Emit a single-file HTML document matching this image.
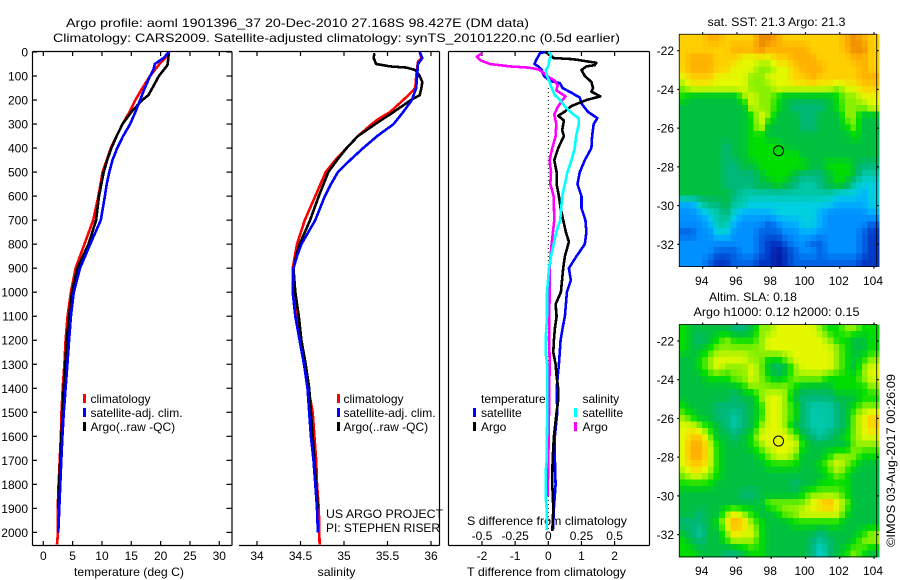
<!DOCTYPE html>
<html>
<head>
<meta charset="utf-8">
<title>Argo profile</title>
<style>
html,body{margin:0;padding:0;background:#fff;}
#chart{display:block;position:absolute;left:0;top:0;}
text{font-family:"Liberation Sans",sans-serif;font-size:12px;fill:#000;}
</style>
</head>
<body>
<svg id="chart" xmlns="http://www.w3.org/2000/svg" width="900" height="580" viewBox="0 0 900 580">
<rect x="0" y="0" width="900" height="580" fill="#fff"/>
<text x="66" y="27" textLength="463" lengthAdjust="spacingAndGlyphs">Argo profile: aoml 1901396_37 20-Dec-2010 27.168S 98.427E (DM data)</text>
<text x="53" y="42" textLength="567" lengthAdjust="spacingAndGlyphs">Climatology: CARS2009. Satellite-adjusted climatology: synTS_20101220.nc (0.5d earlier)</text>
<text x="74" y="576" textLength="110" lengthAdjust="spacingAndGlyphs">temperature (deg C)</text>
<text x="317.500" y="576" textLength="38" lengthAdjust="spacingAndGlyphs">salinity</text>
<text x="467" y="576" textLength="159" lengthAdjust="spacingAndGlyphs">T difference from climatology</text>
<text x="467" y="525" textLength="160" lengthAdjust="spacingAndGlyphs">S difference from climatology</text>
<text x="326" y="518" textLength="117" lengthAdjust="spacingAndGlyphs">US ARGO PROJECT</text>
<text x="326" y="532" textLength="114" lengthAdjust="spacingAndGlyphs">PI: STEPHEN RISER</text>
<text x="707.500" y="26" textLength="138" lengthAdjust="spacingAndGlyphs">sat. SST: 21.3 Argo: 21.3</text>
<text x="709" y="301" textLength="88" lengthAdjust="spacingAndGlyphs">Altim. SLA: 0.18</text>
<text x="693.500" y="316" textLength="166" lengthAdjust="spacingAndGlyphs">Argo h1000: 0.12 h2000: 0.15</text>
<text transform="translate(895,547) rotate(-90)" x="0" y="0" textLength="173" lengthAdjust="spacingAndGlyphs">©IMOS 03-Aug-2017 00:26:09</text>
<g id="layer"></g>
</svg>
<script>
// ---------- tick labels ----------
const depthTicks = [0,100,200,300,400,500,600,700,800,900,1000,1100,1200,1300,1400,1500,1600,1700,1800,1900,2000];
const tempTicks = [0,5,10,15,20,25,30];
const salTicks = [34,34.5,35,35.5,36];
const tDiffTicks = [-2,-1,0,1,2];
const sDiffTicks = [-0.5,-0.25,0,0.25,0.5];
const lonTicks = [94,96,98,100,102,104];
const latTicks = [-22,-24,-26,-28,-30,-32];

// ---------- temperature profiles ----------
const tempClimDepth = [0,20,50,100,150,200,250,300,350,400,450,500,600,700,800,900,1000,1100,1200,1300,1400,1500,1600,1700,1800,1900,2000,2050];
const tempClimValues = [21.5,21,19.8,18.2,16.9,15.7,14.7,13.5,12.5,11.5,10.8,10.1,9.4,8.5,7,5.5,4.7,4.15,3.8,3.6,3.3,3.1,3,2.8,2.6,2.45,2.5,2.33];
const tempArgoDepth = [5,50,60,75,100,150,180,200,250,300,350,400,450,500,600,700,800,900,1000,1100,1200,1300,1400,1500,1600,1700,1800,1900];
const tempArgoValues = [21.4,21.2,21,20.5,19.7,18.6,17.9,16.9,15,13.5,12.5,11.6,10.9,10.3,9.5,9,7.7,5.8,4.9,4.4,4,3.75,3.47,3.3,3.07,2.9,2.67,2.55];
const tempSatDepth = [0,25,50,75,100,150,200,250,300,350,400,450,500,550,600,700,750,800,900,1000,1100,1200,1300,1400,1500,1600,1700,1800,1900,2000];
const tempSatValues = [21.4,20.5,19,18.75,18.2,17.3,16.5,15.7,14.8,13.6,12.6,11.8,11.25,10.8,10.5,9.8,8.9,8,6.25,5.2,4.7,4.4,4.1,3.8,3.5,3.25,3.07,2.9,2.73,2.55];

// ---------- salinity profiles ----------
const salClimDepth = [0,25,40,100,150,180,200,250,280,300,350,400,450,500,600,700,800,900,1000,1100,1200,1300,1400,1500,1600,1700,1800,1900,2050];
const salClimValues = [35.87,35.89,35.85,35.83,35.82,35.74,35.68,35.53,35.39,35.32,35.16,35.03,34.9,34.79,34.67,34.55,34.46,34.41,34.41,34.46,34.5,34.54,34.59,34.64,34.66,34.68,34.69,34.71,34.72];
const salArgoDepth = [5,25,50,60,65,75,100,125,150,180,200,250,300,350,400,450,500,600,700,800,850,900,1000,1100,1200,1300,1400,1500,1600,1700,1800,1900];
const salArgoValues = [35.35,35.34,35.37,35.53,35.72,35.82,35.87,35.9,35.89,35.87,35.77,35.57,35.36,35.16,35.03,34.92,34.82,34.71,34.61,34.49,34.45,34.42,34.44,34.48,34.51,34.56,34.6,34.62,34.64,34.66,34.68,34.7];
const salSatDepth = [0,25,50,100,150,200,250,300,350,400,450,500,550,600,700,800,850,900,1000,1100,1200,1300,1400,1500,1600,1700,1800,1900,2000];
const salSatValues = [35.87,35.9,35.85,35.84,35.83,35.78,35.68,35.57,35.38,35.22,35.07,34.93,34.85,34.78,34.67,34.51,34.46,34.42,34.41,34.44,34.49,34.54,34.58,34.6,34.62,34.65,34.67,34.69,34.7];

// ---------- difference profiles ----------
const dTSatDepth = [0,5,30,50,60,75,100,120,130,150,170,190,215,250,275,300,350,400,450,500,550,600,650,700,750,800,850,900,950,1000,1050,1100,1150,1200,1300,1400,1500,1600,1700,1800,1900,1990];
const dTSatValues = [-0.1,-0.25,-0.35,-0.42,-0.3,-0.2,-0.13,0.05,0.35,0.43,0.7,0.95,1,1.2,1.48,1.37,1.32,1.3,1.1,0.95,0.88,1,1,1.12,1.15,1.1,0.85,0.62,0.68,0.56,0.53,0.5,0.43,0.37,0.32,0.25,0.27,0.2,0.2,0.22,0.17,0.14];
const dTArgoDepth = [0,10,25,30,45,55,60,75,100,125,150,165,185,200,225,250,265,285,325,350,400,450,500,550,600,650,700,750,790,850,900,1000,1050,1100,1150,1200,1250,1300,1350,1400,1450,1500,1600,1700,1800,1900,1995];
const dTArgoValues = [-0.1,0.05,0.15,0.75,1.45,1.4,1.15,1,1.1,1.3,1.35,1.3,1.57,1.15,0.7,0.48,0.3,0.47,0.42,0.47,0.3,0.18,0.25,0.25,0.32,0.37,0.45,0.53,0.62,0.5,0.45,0.38,0.22,0.25,0.2,0.17,0.15,0.22,0.25,0.3,0.3,0.25,0.17,0.13,0.12,0.15,0.12];
const dSArgoDepth = [5,20,35,50,60,65,72,85,100,120,140,160,185,205,230,260,300,350,400,450,500,550,600,700,800,900,1000,1200,1300,1400,1500,1700,1850];
const dSArgoValues = [-0.5,-0.54,-0.51,-0.44,-0.29,-0.15,-0.075,-0.04,-0.01,0.05,0.07,0.06,0.13,0.1,0.07,0.045,0.06,0.055,0.03,0.01,0.02,0.015,0.04,0.045,0.025,0.01,0.01,0.005,0.012,0.005,0.005,0,-0.005];
const dSSatDepth = [0,10,30,60,75,100,125,150,180,200,230,260,275,300,350,400,450,500,550,600,700,750,800,850,900,1000,1100,1150,1200,1250,1300,1500,1700,1750,1850,1900,1990];
const dSSatValues = [0,0.02,0.01,0,-0.02,-0.01,0.01,0.025,0.05,0.09,0.13,0.19,0.23,0.23,0.21,0.2,0.175,0.145,0.125,0.105,0.09,0.06,0.04,0.02,0.005,-0.01,-0.01,-0.015,-0.02,-0.02,-0.008,-0.008,-0.012,-0.02,-0.02,-0.012,-0.012];

// ---------- map grids (colour-scale levels, 0.5 deg cells, north to south) ----------
const sstGrid = [
[12,12,12,13,13,12,12,12,12,14,14,13,12,12,12,12,12,12,12,13,14,13,12],
[12,12,12,12,12,12,13,13,13,14,13,13,13,13,13,12,12,12,12,13,14,14,12],
[12,13,13,13,12,12,12,11,11,11,11,12,12,13,13,13,12,12,12,12,13,13,12],
[12,13,13,13,12,12,11,11,11,10,10,11,11,12,13,13,13,12,12,12,12,13,12],
[11,12,12,12,11,11,11,11,10,10,11,11,11,12,12,13,12,12,12,12,12,13,13],
[10,11,11,11,11,11,11,11,10,10,10,11,11,11,11,11,11,11,10,11,11,12,12],
[9,8,8,8,8,8,8,10,11,10,10,9,8,8,8,8,8,8,9,10,10,11,11],
[8,8,8,8,8,8,8,8,11,10,10,9,8,7,7,7,7,8,9,10,10,10,11],
[8,8,8,8,8,8,8,8,9,11,10,8,8,8,7,7,8,8,8,10,10,8,8],
[8,8,8,8,8,8,8,8,9,11,8,8,8,8,7,7,8,8,8,9,10,8,8],
[8,8,8,8,8,8,8,8,9,9,8,8,8,8,8,8,8,8,8,8,9,8,8],
[8,8,8,8,8,7,8,8,9,9,9,9,8,8,8,8,8,8,8,8,8,8,8],
[8,8,8,8,8,7,8,8,9,9,9,9,9,9,8,8,8,8,8,8,8,8,8],
[8,8,8,8,8,7,7,8,8,9,9,9,9,9,9,8,8,9,9,9,8,7,7],
[8,8,8,8,8,7,7,7,7,8,9,9,9,8,7,7,7,8,9,9,8,6,6],
[8,8,8,8,8,7,7,7,7,8,8,9,8,7,6,6,7,8,9,8,6,5,5],
[8,8,8,8,8,8,7,6,6,6,6,6,6,6,6,6,6,6,5,5,5,4,5],
[4,4,6,7,7,8,6,6,5,5,5,5,5,5,5,5,5,5,4,4,4,4,5],
[3,3,4,5,6,7,5,4,4,4,4,5,5,5,5,5,4,3,3,3,3,3,4],
[3,3,3,4,6,6,4,3,3,3,2,3,4,4,5,5,4,3,3,3,3,3,2],
[2,2,3,3,5,5,3,3,3,2,2,2,3,3,4,4,3,3,3,3,3,2,1],
[3,3,3,3,3,3,3,3,3,2,1,1,2,3,3,2,2,3,3,3,3,2,1],
[3,3,3,3,2,2,2,3,3,2,1,0,1,2,3,3,2,3,3,3,3,2,1],
[3,3,3,2,1,1,2,2,2,1,1,0,1,2,2,2,2,2,2,2,2,1,1]
];
const slaGrid = [
[9,8,8,8,8,8,7,7,8,10,10,11,11,11,11,11,10,9,9,10,10,9,9],
[9,8,7,8,9,10,9,9,9,10,11,11,11,11,11,11,11,10,9,9,8,8,9],
[9,8,8,9,10,10,10,10,10,10,11,11,11,11,11,11,11,11,10,9,8,8,9],
[8,8,9,10,11,11,11,11,10,10,9,9,10,11,11,11,11,11,10,9,8,9,10],
[8,8,9,10,11,10,10,10,11,10,8,7,8,10,11,11,11,11,10,9,8,10,11],
[8,8,8,9,9,9,10,10,11,10,9,8,9,10,10,10,10,9,9,9,9,10,11],
[8,8,8,8,8,8,8,9,10,10,10,10,10,9,8,8,8,8,9,9,9,9,10],
[8,8,8,8,8,8,7,8,8,10,11,11,10,8,7,7,7,7,8,8,8,9,9],
[9,8,8,8,7,7,7,7,8,9,11,11,10,9,7,6,6,6,7,8,9,10,10],
[10,9,8,8,7,7,6,7,8,9,11,11,10,9,7,6,6,6,7,8,10,11,12],
[11,11,10,9,8,7,6,7,8,10,11,11,10,8,7,6,6,6,7,8,10,11,12],
[11,12,12,10,8,8,7,8,9,11,11,11,11,10,8,7,6,7,8,9,10,11,11],
[11,13,13,11,9,8,8,8,9,10,11,11,11,11,9,8,8,8,8,8,10,10,10],
[11,13,13,11,9,8,8,8,8,9,10,11,11,10,8,8,8,9,10,10,10,9,9],
[11,12,12,11,9,8,8,8,8,8,9,9,9,9,8,8,9,10,11,10,9,8,8],
[10,11,11,10,9,8,8,8,8,8,8,8,8,8,8,8,8,9,10,9,8,8,8],
[9,9,9,9,8,8,8,8,8,8,8,8,8,7,8,8,9,9,9,9,8,8,8],
[8,8,8,8,8,8,8,7,7,8,8,8,8,8,9,10,10,10,10,9,8,8,8],
[8,8,8,8,8,8,8,8,8,8,10,10,10,10,10,11,12,13,11,10,8,8,8],
[8,8,7,8,8,10,11,10,9,8,8,9,10,10,11,11,11,11,11,9,8,8,8],
[7,7,7,8,9,11,13,12,10,9,8,8,8,9,9,9,9,9,9,8,8,8,8],
[8,7,6,8,8,10,12,11,11,9,8,8,8,8,8,8,7,8,8,8,8,9,10],
[9,8,7,8,8,9,10,10,10,9,8,8,8,8,8,7,6,7,8,8,9,10,10],
[9,9,8,8,8,7,7,8,9,9,8,8,8,8,8,7,5,7,8,9,10,9,8]
];
const floatLon = 98.427;
const floatLat = -27.168;

// ---------- styling and scales ----------
const paletteRgb = [[8,24,160],[0,56,196],[0,100,228],[0,144,255],[0,176,255],[0,208,224],[0,200,168],[0,184,120],[0,192,64],[0,222,0],[136,240,0],[228,248,0],[255,208,0],[255,176,0],[238,140,0]];
const NS = 'http://www.w3.org/2000/svg';
const layer = document.getElementById('layer');
function mk(tag, attrs, parent) {
  const el = document.createElementNS(NS, tag);
  for (const k in attrs) el.setAttribute(k, attrs[k]);
  (parent || layer).appendChild(el);
  return el;
}
function label(x, y, str, anchor) {
  const el = mk('text', {x: x, y: y, 'text-anchor': anchor || 'middle'});
  el.textContent = str;
  return el;
}
function linearScale(v0, p0, v1, p1) {
  return function (v) { return p0 + (v - v0) * (p1 - p0) / (v1 - v0); };
}
const yDepth = linearScale(0, 52, 2000, 532.4);
const xTemp = linearScale(0, 43.3, 30, 219.3);
const xSal = linearScale(34, 257, 36, 431);
const xDT = linearScale(0, 548.3, 2, 614.6);
const xDS = linearScale(0, 548.3, 0.5, 614.6);
const TOP = 51.5, BOTTOM = 545.5;

function axisLine(x1, y1, x2, y2) {
  return mk('line', {x1: x1, y1: y1, x2: x2, y2: y2, stroke: '#000', 'stroke-width': 1.2});
}
function drawProfile(values, depths, xScale, colour) {
  const pts = values.map(function (v, i) { return xScale(v).toFixed(1) + ',' + yDepth(depths[i]).toFixed(1); }).join(' ');
  return mk('polyline', {points: pts, fill: 'none', stroke: colour, 'stroke-width': 2.6, 'stroke-linejoin': 'round', 'shape-rendering': 'crispEdges'});
}
function legendMark(x, y, colour) {
  return mk('rect', {x: x, y: y, width: 3, height: 9, fill: colour});
}

// ---------- panel frames ----------
const frames = [[32.5, 232],[239, 439.5],[448.5, 649.5]];
frames.forEach(function (f, idx) {
  const top = axisLine(f[0], TOP, f[1], TOP);
  
  
  const bot = axisLine(f[0], BOTTOM, f[1], BOTTOM);
  
  
  const r = axisLine(f[1], TOP, f[1], BOTTOM);
  
  
  if (idx !== 1) {
    const l = axisLine(f[0], TOP, f[0], BOTTOM);
    
    
  }
});

// ---------- depth axis ----------
depthTicks.forEach(function (d) {
  const y = yDepth(d);
  const a = axisLine(32.5, y, 37, y);
  
  
  const b = axisLine(226.5, y, 232, y);
  
  
  const t = label(28, y + 4.5, String(d), 'end');
  
  
});

// ---------- x axes ----------
function xAxis(ticks, scale, fmt) {
  ticks.forEach(function (v) {
    const x = scale(v);
    const a = axisLine(x, TOP, x, TOP + 4.5);
    
    
    const b = axisLine(x, BOTTOM - 4.5, x, BOTTOM);
    
    
    const t = label(x, 560, fmt(v));
    
    
  });
}
xAxis(tempTicks, xTemp, String);
xAxis(salTicks, xSal, String);
xAxis(tDiffTicks, xDT, String);
sDiffTicks.forEach(function (v) {
  const t = label(xDS(v), 540, String(v));
  
  
});

// ---------- zero line ----------
const zeroLine = mk('line', {x1: xDT(0), y1: yDepth(150), x2: xDT(0), y2: yDepth(2000), stroke: '#000', 'stroke-width': 1, 'stroke-dasharray': '1 3'});



// ---------- series ----------
let s;
s = drawProfile(tempClimValues, tempClimDepth, xTemp, '#f00');


s = drawProfile(tempArgoValues, tempArgoDepth, xTemp, '#000');


s = drawProfile(tempSatValues, tempSatDepth, xTemp, '#00f');


s = drawProfile(salClimValues, salClimDepth, xSal, '#f00');


s = drawProfile(salArgoValues, salArgoDepth, xSal, '#000');


s = drawProfile(salSatValues, salSatDepth, xSal, '#00f');


s = drawProfile(dTSatValues, dTSatDepth, xDT, '#00f');


s = drawProfile(dTArgoValues, dTArgoDepth, xDT, '#000');


s = drawProfile(dSArgoValues, dSArgoDepth, xDS, '#f0f');


s = drawProfile(dSSatValues, dSSatDepth, xDS, '#0ff');



// ---------- legends ----------
const legendRows = ['climatology', 'satellite-adj. clim.', 'Argo(..raw -QC)'];
const legendColours = ['#f00', '#00f', '#000'];
[[83, 90.5], [337, 343.5]].forEach(function (pos) {
  legendRows.forEach(function (txt, i) {
    const m = legendMark(pos[0], 394 + i * 14, legendColours[i]);
    
    
    const t = label(pos[1], 403 + i * 14, txt, 'start');
    
    
  });
});
const diffLegendHeads = [['temperature', 481], ['salinity', 582.5]];
diffLegendHeads.forEach(function (h) {
  const t = label(h[1], 403, h[0], 'start');
  
  
});
const diffLegend = [[473, 481, 'satellite', '#00f', 417], [473, 481, 'Argo', '#000', 431], [574, 582.5, 'satellite', '#0ff', 417], [574, 582.5, 'Argo', '#f0f', 431]];
diffLegend.forEach(function (e) {
  const m = legendMark(e[0], e[4] - 9, e[3]);
  
  
  const t = label(e[1], e[4], e[2], 'start');
  
  
});

// ---------- maps ----------
function levelColour(level) {
  const top = paletteRgb.length - 1;
  const l = Math.max(0, Math.min(top, level));
  const i = Math.min(top - 1, Math.floor(l));
  const f = l - i;
  const c = paletteRgb[i].map(function (v, k) { return Math.round(v + (paletteRgb[i + 1][k] - v) * f); });
  return 'rgb(' + c.join(',') + ')';
}
function sampleGrid(grid, rowPos, colPos) {
  const rows = grid.length, cols = grid[0].length;
  const r = Math.max(0, Math.min(rows - 1, rowPos));
  const c = Math.max(0, Math.min(cols - 1, colPos));
  const r0 = Math.floor(r), c0 = Math.floor(c);
  const r1 = Math.min(rows - 1, r0 + 1), c1 = Math.min(cols - 1, c0 + 1);
  const fr = r - r0, fc = c - c0;
  return grid[r0][c0] * (1 - fr) * (1 - fc) + grid[r0][c1] * (1 - fr) * fc + grid[r1][c0] * fr * (1 - fc) + grid[r1][c1] * fr * fc;
}
function drawMap(grid, lat22y, xLabelY) {
  const xLon = linearScale(94, 702.7, 104, 874);
  const yLat = linearScale(-22, lat22y, -32, lat22y + 193.6);
  const lon0 = 92.63, lat0 = -21.15, step = 0.5, sub = 3;
  const g = mk('g', {'shape-rendering': 'crispEdges'});
  
  
  const nRows = Math.round(grid.length * 1.5), nCols = Math.round(grid[0].length * 1.5);
  const blockDeg = step * 2 / sub;
  for (let r = 0; r < nRows; r++) {
    for (let c = 0; c < nCols; c++) {
      const x0 = xLon(lon0 + c * blockDeg), x1 = xLon(lon0 + (c + 1) * blockDeg);
      const y0 = yLat(lat0 - r * blockDeg), y1 = yLat(lat0 - (r + 1) * blockDeg);
      const level = sampleGrid(grid, (r + 0.5) * blockDeg / step - 0.5, (c + 0.5) * blockDeg / step - 0.5);
      const cell = mk('rect', {x: x0, y: y0, width: x1 - x0 + 0.5, height: y1 - y0 + 0.5, fill: levelColour(level)}, g);
      
      
    }
  }
  const left = xLon(lon0), right = xLon(lon0 + grid[0].length * step) + 0.5;
  const top = yLat(lat0), bottom = yLat(lat0 - grid.length * step);
  const fr = mk('rect', {x: left, y: top, width: right - left, height: bottom - top, fill: 'none', stroke: '#000', 'stroke-width': 0.8});
  
  
  lonTicks.forEach(function (v) {
    const x = xLon(v);
    const a = axisLine(x, bottom, x, bottom + 2);
    
    
    const b = axisLine(x, top - 2, x, top);
    
    
    const t = label(x - 1, xLabelY, String(v));
    
    
  });
  latTicks.forEach(function (v) {
    const y = yLat(v);
    const a = axisLine(left - 2, y, left, y);
    
    
    const b = axisLine(right, y, right + 2, y);
    
    
    const t = label(674, y + 4.5, '-' + Math.abs(v), 'end');
    
    
  });
  const c = mk('circle', {cx: xLon(floatLon), cy: yLat(floatLat), r: 5, fill: 'none', stroke: '#000', 'stroke-width': 1});
  
  
}
drawMap(sstGrid, 50.7, 285);
drawMap(slaGrid, 341, 575);
</script>
</body>
</html>
